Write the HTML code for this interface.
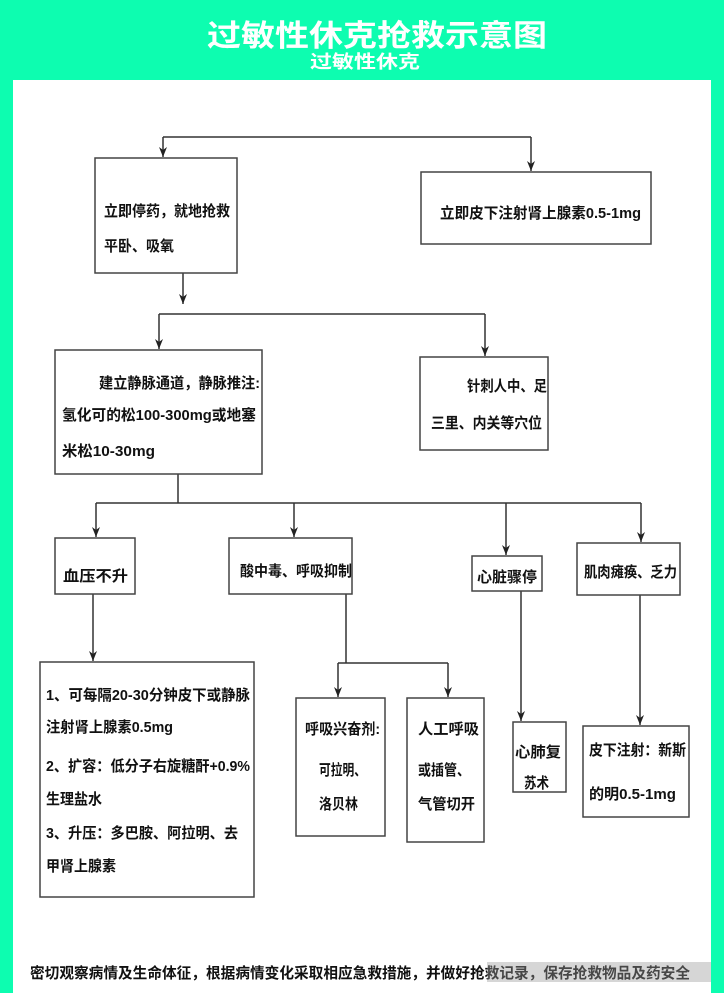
<!DOCTYPE html>
<html><head><meta charset="utf-8"><style>
html,body{margin:0;padding:0;background:#0dfdb0;}
svg{display:block}
text{font-family:"Liberation Sans","Noto Sans CJK SC",sans-serif;font-weight:bold;fill:#111}
</style></head><body>
<svg width="724" height="993" viewBox="0 0 724 993" xmlns="http://www.w3.org/2000/svg">
<defs><marker id="a" markerWidth="10" markerHeight="8" refX="10" refY="4" orient="auto" markerUnits="userSpaceOnUse"><path d="M0,0 L10,4 L0,8 L3,4 Z" fill="#222"/></marker></defs>
<rect x="0" y="0" width="724" height="993" fill="#0dfdb0"/>
<text x="377" y="46" font-size="30" text-anchor="middle" style="fill:#fff" textLength="340" lengthAdjust="spacingAndGlyphs">过敏性休克抢救示意图</text>
<text x="365" y="68" font-size="18" text-anchor="middle" style="fill:#fff" textLength="110" lengthAdjust="spacingAndGlyphs">过敏性休克</text>
<rect x="13" y="80" width="698" height="913" fill="#fff"/>
<g stroke="#333" stroke-width="1.5" fill="none">
<path d="M163,137 H531"/><path d="M163,137 V157" marker-end="url(#a)"/><path d="M531,137 V171" marker-end="url(#a)"/>
<path d="M183,273 V304" marker-end="url(#a)"/>
<path d="M159,314 H485"/><path d="M159,314 V349" marker-end="url(#a)"/><path d="M485,314 V356" marker-end="url(#a)"/>
<path d="M178,474 V503"/><path d="M96,503 H641"/>
<path d="M96,503 V537" marker-end="url(#a)"/><path d="M294,503 V537" marker-end="url(#a)"/><path d="M506,503 V555" marker-end="url(#a)"/><path d="M641,503 V542" marker-end="url(#a)"/>
<path d="M93,594 V661" marker-end="url(#a)"/>
<path d="M346,594 V663"/><path d="M338,663 H448"/><path d="M338,663 V697" marker-end="url(#a)"/><path d="M448,663 V697" marker-end="url(#a)"/>
<path d="M521,591 V721" marker-end="url(#a)"/>
<path d="M640,595 V725" marker-end="url(#a)"/>
</g>
<g stroke="#444" stroke-width="1.5" fill="#fff">
<rect x="95" y="158" width="142" height="115"/>
<rect x="421" y="172" width="230" height="72"/>
<rect x="55" y="350" width="207" height="124"/>
<rect x="420" y="357" width="128" height="93"/>
<rect x="55" y="538" width="80" height="56"/>
<rect x="229" y="538" width="123" height="56"/>
<rect x="472" y="556" width="70" height="35"/>
<rect x="577" y="543" width="103" height="52"/>
<rect x="40" y="662" width="214" height="235"/>
<rect x="296" y="698" width="89" height="138"/>
<rect x="407" y="698" width="77" height="144"/>
<rect x="513" y="722" width="53" height="70"/>
<rect x="583" y="726" width="106" height="91"/>
</g>
<g font-size="15">
<text x="104" y="216" textLength="126" lengthAdjust="spacingAndGlyphs">立即停药，就地抢救</text>
<text x="104" y="251" textLength="70" lengthAdjust="spacingAndGlyphs">平卧、吸氧</text>
<text x="440" y="218" textLength="201" lengthAdjust="spacingAndGlyphs">立即皮下注射肾上腺素0.5-1mg</text>
<text x="99" y="388" textLength="161" lengthAdjust="spacingAndGlyphs">建立静脉通道，静脉推注:</text>
<text x="62" y="420" textLength="194" lengthAdjust="spacingAndGlyphs">氢化可的松100-300mg或地塞</text>
<text x="62" y="456" textLength="93" lengthAdjust="spacingAndGlyphs">米松10-30mg</text>
<text x="467" y="391" textLength="80" lengthAdjust="spacingAndGlyphs">针刺人中、足</text>
<text x="431" y="428" textLength="111" lengthAdjust="spacingAndGlyphs">三里、内关等穴位</text>
<text x="63" y="581" textLength="65" lengthAdjust="spacingAndGlyphs">血压不升</text>
<text x="240" y="576" textLength="112" lengthAdjust="spacingAndGlyphs">酸中毒、呼吸抑制</text>
<text x="477" y="582" textLength="60" lengthAdjust="spacingAndGlyphs">心脏骤停</text>
<text x="584" y="577" textLength="93" lengthAdjust="spacingAndGlyphs">肌肉瘫痪、乏力</text>
<text x="46" y="700" textLength="204" lengthAdjust="spacingAndGlyphs">1、可每隔20-30分钟皮下或静脉</text>
<text x="46" y="732" textLength="127" lengthAdjust="spacingAndGlyphs">注射肾上腺素0.5mg</text>
<text x="46" y="771" textLength="204" lengthAdjust="spacingAndGlyphs">2、扩容：低分子右旋糖酐+0.9%</text>
<text x="46" y="804" textLength="56" lengthAdjust="spacingAndGlyphs">生理盐水</text>
<text x="46" y="838" textLength="192" lengthAdjust="spacingAndGlyphs">3、升压：多巴胺、阿拉明、去</text>
<text x="46" y="871" textLength="70" lengthAdjust="spacingAndGlyphs">甲肾上腺素</text>
<text x="305" y="734" textLength="75" lengthAdjust="spacingAndGlyphs">呼吸兴奋剂:</text>
<text x="319" y="775" textLength="47" lengthAdjust="spacingAndGlyphs">可拉明、</text>
<text x="319" y="809" textLength="39" lengthAdjust="spacingAndGlyphs">洛贝林</text>
<text x="418" y="734" textLength="61" lengthAdjust="spacingAndGlyphs">人工呼吸</text>
<text x="418" y="775" textLength="52" lengthAdjust="spacingAndGlyphs">或插管、</text>
<text x="418" y="809" textLength="57" lengthAdjust="spacingAndGlyphs">气管切开</text>
<text x="515" y="757" textLength="46" lengthAdjust="spacingAndGlyphs">心肺复</text>
<text x="524" y="788" textLength="25" lengthAdjust="spacingAndGlyphs">苏术</text>
<text x="589" y="755" textLength="97" lengthAdjust="spacingAndGlyphs">皮下注射：新斯</text>
<text x="589" y="799" textLength="87" lengthAdjust="spacingAndGlyphs">的明0.5-1mg</text>
<text x="30" y="978" textLength="660" lengthAdjust="spacingAndGlyphs">密切观察病情及生命体征，根据病情变化采取相应急救措施，并做好抢救记录，保存抢救物品及药安全</text>
</g>
<rect x="487" y="962" width="224" height="20" fill="#999" opacity="0.4"/>
</svg>
</body></html>
